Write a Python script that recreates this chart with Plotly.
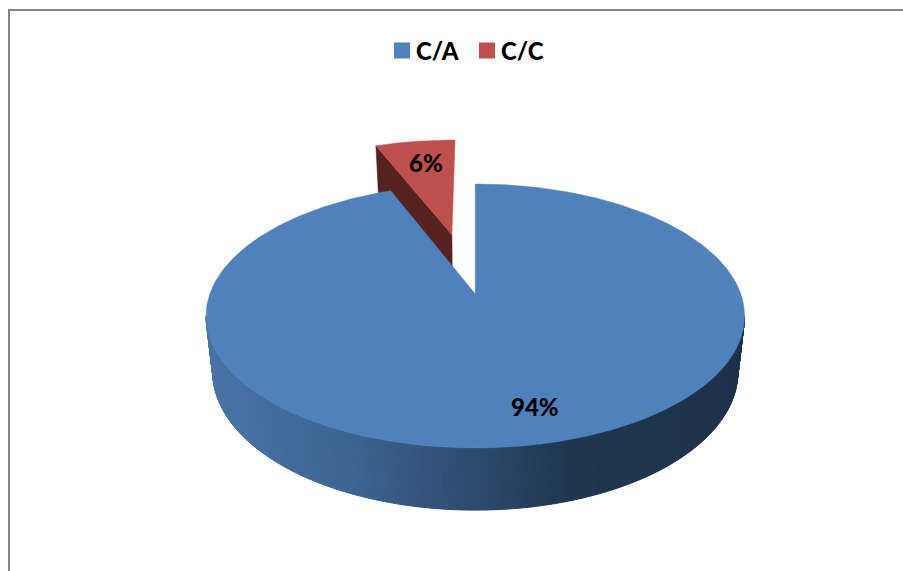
import math
import plotly.graph_objects as go

# Data
categories = ["C/A", "C/C"]
values = [94, 6]
colors = ["#4F81BD", "#C0504D"]
wall_dark_red = "#552220"
label_positions = [(535, 406), (426, 162)]
key_positions = [(402, 50.5), (487, 50.5)]
key_text_x = [416, 501]

# Projection of the 3D pie into the page (pixel-like axis units)
CX, CY = 475.3, 294.0
AX, BX = 265.5, 128.3
K = 1 / 6
DEPTH = 55.0
BOTTOM_SCALE = 0.975
EXPLODE = 0.51


def project(u, v, drop=0.0):
    s = 1 / (1 - K * v)
    f = BOTTOM_SCALE if drop else 1.0
    return CX + AX * u * s * f, CY + BX * v * s * f + drop * DEPTH * s


def slice_outline(a0, a1, off=(0.0, 0.0), drop=0.0, n=160):
    pts = [project(off[0], off[1], drop)]
    for i in range(n + 1):
        a = a0 + (a1 - a0) * i / n
        pts.append(project(off[0] + math.sin(a), off[1] - math.cos(a), drop))
    pts.append(pts[0])
    return [p[0] for p in pts], [p[1] for p in pts]


total = sum(values)
sweep_a = 2 * math.pi * values[0] / total
sweep_b = 2 * math.pi * values[1] / total
mid_b = sweep_a + sweep_b / 2
off_b = (EXPLODE * math.sin(mid_b), -EXPLODE * math.cos(mid_b))

fig = go.Figure()

# Exploded small slice: cut wall
ax_, ay_ = project(off_b[0], off_b[1])
lx_, ly_ = project(off_b[0] + math.sin(sweep_a), off_b[1] - math.cos(sweep_a))
bx_, by_ = project(off_b[0], off_b[1], 1)
mx_, my_ = project(off_b[0] + math.sin(sweep_a), off_b[1] - math.cos(sweep_a), 1)
fig.add_trace(go.Scatter(x=[lx_, ax_, bx_, mx_, lx_], y=[ly_, ay_, by_, my_, ly_],
                         mode="lines", fill="toself", fillcolor=wall_dark_red,
                         line=dict(color=wall_dark_red, width=0.5), showlegend=False, hoverinfo="skip"))
# Exploded small slice: top
xs, ys = slice_outline(sweep_a, 2 * math.pi, off_b)
fig.add_trace(go.Scatter(x=xs, y=ys, mode="lines", fill="toself", fillcolor=colors[1],
                         line=dict(color=colors[1], width=0.5), showlegend=False, hoverinfo="skip"))

# Side wall of large slice: shaded strips along the rim
stops = [(206, (0x48, 0x74, 0xA6)), (350, (0x3D, 0x64, 0x92)), (476, (0x2C, 0x4A, 0x6E)),
         (570, (0x20, 0x36, 0x50)), (746, (0x1D, 0x31, 0x49))]


def shade(x):
    for (x0, c0), (x1, c1) in zip(stops, stops[1:]):
        if x <= x1:
            f = max(0.0, (x - x0) / (x1 - x0))
            return "rgb(%d,%d,%d)" % tuple(round(a + (b - a) * f) for a, b in zip(c0, c1))
    return "rgb(%d,%d,%d)" % stops[-1][1]


t0 = math.asin(K)
N = 200
for i in range(N):
    ta = math.pi - t0 - (math.pi - 2 * t0) * i / N
    tb = math.pi - t0 - (math.pi - 2 * t0) * (i + 1) / N
    quad = [project(math.cos(ta), math.sin(ta)), project(math.cos(tb), math.sin(tb)),
            project(math.cos(tb), math.sin(tb), 1), project(math.cos(ta), math.sin(ta), 1)]
    quad.append(quad[0])
    col = shade((quad[0][0] + quad[1][0]) / 2)
    fig.add_trace(go.Scatter(x=[p[0] for p in quad], y=[p[1] for p in quad], mode="lines",
                             fill="toself", fillcolor=col, line=dict(color=col, width=1),
                             showlegend=False, hoverinfo="skip"))

# Large slice: top
xs, ys = slice_outline(0, sweep_a, n=400)
fig.add_trace(go.Scatter(x=xs, y=ys, mode="lines", fill="toself", fillcolor=colors[0],
                         line=dict(color=colors[0], width=0.5), showlegend=False, hoverinfo="skip"))

TEXT_FONT = dict(family="Lato", size=24, color="#000000", weight=900)

# Key at the top of the chart
for name, col, (px, py), tx in zip(categories, colors, key_positions, key_text_x):
    fig.add_trace(go.Scatter(x=[px], y=[py], mode="markers", name=name, showlegend=False,
                             marker=dict(symbol="square", size=16, color=col, line=dict(width=0))))
    fig.add_annotation(x=tx, y=py, text=name, showarrow=False, xanchor="left",
                       xshift=-2, font=TEXT_FONT)

# Percent labels
for v, (px, py) in zip(values, label_positions):
    fig.add_annotation(x=px, y=py, text=f"{round(v / total * 100)}%", showarrow=False, font=TEXT_FONT)

fig.add_shape(type="rect", x0=9, y0=10, x1=930, y1=600, line=dict(color="#868686", width=2), layer="below")

fig.update_layout(
    width=903, height=571, margin=dict(l=0, r=0, t=0, b=0),
    paper_bgcolor="#ffffff", plot_bgcolor="#ffffff", showlegend=False,
    xaxis=dict(range=[0, 903], visible=False, fixedrange=True),
    yaxis=dict(range=[571, 0], visible=False, fixedrange=True),
)

fig.write_html("out.html", post_script="document.body.style.margin='0';",
               config={"displayModeBar": False})
